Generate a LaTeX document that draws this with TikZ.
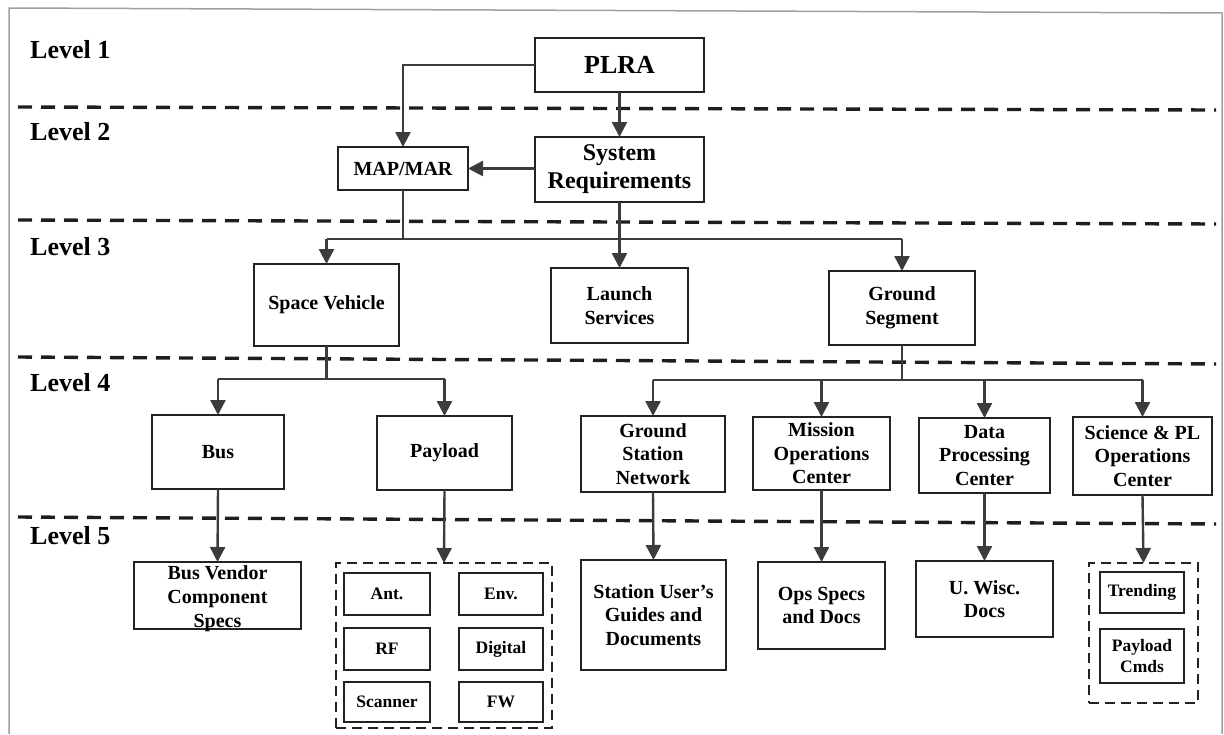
\documentclass[tikz,border=0pt]{standalone}
\usepackage{fontspec}
\setmainfont{Liberation Serif}
\usetikzlibrary{arrows.meta}
\definecolor{boxc}{HTML}{222222}
\definecolor{linec}{HTML}{3C3C3C}
\definecolor{sepc}{HTML}{1E1E1E}
\definecolor{framec}{HTML}{A0A0A0}
\begin{document}
\begin{tikzpicture}[x=1pt,y=-1pt,
  box/.style={draw=boxc, line width=2.4pt, inner sep=0pt, outer sep=0pt, align=center, font=\fontsize{20}{23.5}\selectfont\bfseries},
  bigbox/.style={box, font=\fontsize{24}{28}\selectfont\bfseries},
  sbox/.style={box, font=\fontsize{17.5}{21}\selectfont\bfseries},
  grp/.style={draw=boxc, line width=2.6pt, dash pattern=on 10pt off 6pt, inner sep=0pt, outer sep=0pt},
  conn/.style={draw=linec, line width=2.4pt},
  arr/.style={conn, -{Triangle[width=15pt,length=15pt]}},
  lvl/.style={anchor=west, font=\fontsize{26}{30}\selectfont\bfseries, inner sep=0pt},
  sep/.style={draw=sepc, line width=3.4pt, dash pattern=on 14pt off 9pt},
]
\useasboundingbox (0,0) rectangle (1224,734);
% frame
\draw[framec, line width=1.5pt] (9,734) -- (9,8) -- (1222,13) -- (1222,734);
% level separators
\draw[sep] (18,107) -- (1216,110);
\draw[sep] (18,220) -- (1216,224);
\draw[sep] (18,357) -- (1216,364);
\draw[sep] (18,517) -- (1216,524);
% level labels
\node[lvl] (l1) at (30,50) {Level 1};
\node[lvl] (l2) at (30,132) {Level 2};
\node[lvl] (l3) at (30,247) {Level 3};
\node[lvl] (l4) at (30,383) {Level 4};
\node[lvl] (l5) at (30,536) {Level 5};
% level 1-2
\node[bigbox, font=\fontsize{26}{30}\selectfont\bfseries, minimum width=169pt, minimum height=54pt] (plra) at (619.5,65) {PLRA};
\node[bigbox, minimum width=169pt, minimum height=65pt] (sysreq) at (619.5,169.5) {System\\Requirements};
\node[box, minimum width=130pt, minimum height=43pt] (mapmar) at (403,168.5) {MAP/MAR};
% level 3
\node[box, minimum width=145pt, minimum height=82pt] (sv) at (326.5,305) {Space Vehicle};
\node[box, minimum width=137pt, minimum height=75pt] (ls) at (619.5,305.5) {Launch\\Services};
\node[box, minimum width=146pt, minimum height=74pt] (gs) at (902,308) {Ground\\Segment};
% level 4
\node[box, minimum width=132pt, minimum height=74pt] (bus) at (218,452) {Bus};
\node[box, minimum width=135pt, minimum height=74pt] (payload) at (444.5,453) {Payload};
\node[box, minimum width=144pt, minimum height=76pt] (gsn) at (653,454) {Ground\\Station\\Network};
\node[box, minimum width=137pt, minimum height=73pt] (moc) at (821.5,453.5) {Mission\\Operations\\Center};
\node[box, minimum width=131pt, minimum height=75pt] (dpc) at (984.5,455.5) {Data\\Processing\\Center};
\node[box, minimum width=139pt, minimum height=78pt] (spoc) at (1142.5,456) {Science \& PL\\Operations\\Center};
% level 5
\node[draw=boxc, line width=2.4pt, inner sep=0pt, outer sep=0pt, minimum width=167pt, minimum height=67pt] (busv) at (217.5,595.5) {};
\node[align=center, inner sep=0pt, font=\fontsize{20}{24}\selectfont\bfseries] (busvt) at (217.5,599) {Bus Vendor\\Component\\Specs};
\node[grp, minimum width=216pt, minimum height=165pt] (plg) at (444,645.5) {};
\node[sbox, minimum width=86pt, minimum height=42pt] (ant) at (387,594) {Ant.};
\node[sbox, minimum width=84pt, minimum height=42pt] (env) at (501,594) {Env.};
\node[sbox, minimum width=86pt, minimum height=42pt] (rf) at (387,649) {RF};
\node[sbox, minimum width=84pt, minimum height=42pt] (dig) at (501,649) {Digital};
\node[sbox, minimum width=86pt, minimum height=40pt] (scan) at (387,702) {Scanner};
\node[sbox, minimum width=84pt, minimum height=40pt] (fw) at (501,702) {FW};
\node[box, minimum width=145pt, minimum height=110pt] (sug) at (653.5,615) {Station User’s\\Guides and\\Documents};
\node[box, minimum width=127pt, minimum height=87pt] (ops) at (821.5,605.5) {Ops Specs\\and Docs};
\node[box, minimum width=137pt, minimum height=76pt] (uw) at (984.5,599) {U. Wisc.\\Docs};
\node[grp, minimum width=109pt, minimum height=140pt] (g2) at (1143.5,633) {};
\node[sbox, minimum width=84pt, minimum height=41pt] (trend) at (1142,592.5) {Trending};
\node[sbox, minimum width=84pt, minimum height=54pt] (pcmd) at (1142,656) {Payload\\Cmds};
% connectors level 1-2
\draw[arr] (plra.south) -- (sysreq.north);
\draw[arr] (plra.west) -| (mapmar.north);
\draw[arr] (mapmar.east -| sysreq.west) -- (mapmar.east);
% level 3 distribution
\coordinate (b3) at (0,239);
\draw[conn] (mapmar.south) -- (mapmar.south |- b3);
\draw[conn] (sv.north |- b3) -- (gs.north |- b3);
\draw[arr] (sv.north |- b3) -- (sv.north);
\draw[arr] (sysreq.south) -- (ls.north);
\draw[arr] (gs.north |- b3) -- (gs.north);
% level 4 distribution
\coordinate (b4a) at (0,379);
\draw[conn] (sv.south) -- (sv.south |- b4a);
\draw[conn] (bus.north |- b4a) -- (payload.north |- b4a);
\draw[arr] (bus.north |- b4a) -- (bus.north);
\draw[arr] (payload.north |- b4a) -- (payload.north);
\coordinate (b4b) at (0,380);
\draw[conn] (gs.south) -- (gs.south |- b4b);
\draw[conn] (gsn.north |- b4b) -- (spoc.north |- b4b);
\draw[arr] (gsn.north |- b4b) -- (gsn.north);
\draw[arr] (moc.north |- b4b) -- (moc.north);
\draw[arr] (dpc.north |- b4b) -- (dpc.north);
\draw[arr] (spoc.north |- b4b) -- (spoc.north);
% level 5
\draw[arr] (bus.south) -- (busv.north);
\draw[arr] (payload.south) -- (plg.north);
\draw[arr] (gsn.south) -- (sug.north);
\draw[arr] (moc.south) -- (ops.north);
\draw[arr] (dpc.south) -- (uw.north);
\draw[arr] (spoc.south) -- (g2.north);
\end{tikzpicture}
\end{document}
